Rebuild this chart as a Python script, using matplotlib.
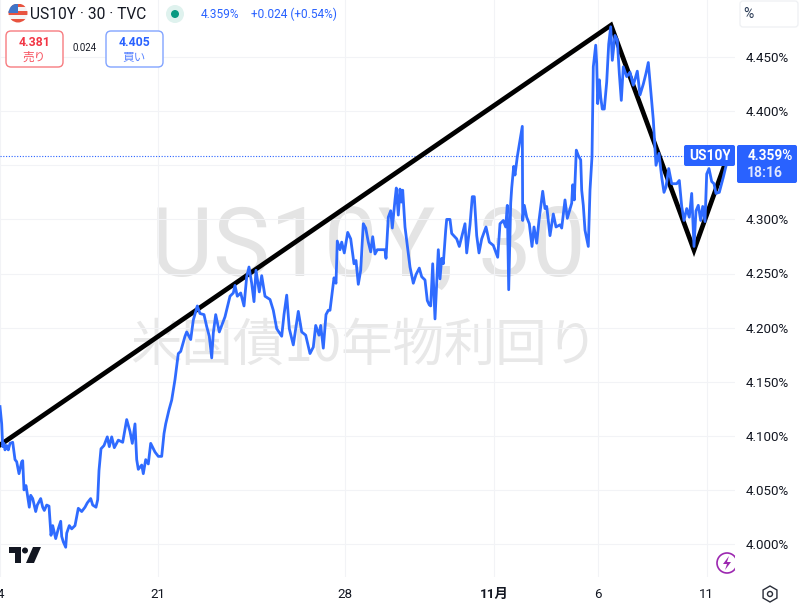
import matplotlib
matplotlib.use("Agg")
import matplotlib.pyplot as plt
from matplotlib.patches import Circle, FancyBboxPatch, Rectangle, Polygon, RegularPolygon

# ---- data -------------------------------------------------------------
time_pos = [0,1.7,2.7,4,5,6.7,8.3,10,12.7,15,16.7,19,21.7,22.7,24,26,29.3,30.7,32.7,35.7,37.3,40.7,42.7,44.3,46.7,49,51,52.7,55.7,58.3,60.7,61.7,63.3,65.7,66.7,69.3,71.7,75,78.3,81.7,85,87.3,90.7,92.7,96,97.7,99,101,104,107.3,109.3,111.7,114.3,118.3,122.7,126.7,130,132.3,135,136.7,138.3,141.7,143.3,145.7,148.3,150.7,155,158.3,161.7,164,165.7,169,171.7,
    175,178.3,180.7,185,186.7,190.7,193.3,197.3,200,204,206.7,209.3,211.7,213.3,215.7,219.3,221.7,225,230,233.3,235,237.3,240.7,244,246.7,249,251.7,254,256,259.3,261.7,265,270,273.3,276.7,281.7,284,286.7,289.3,293.3,298.3,301.7,305.7,310,313.3,315.7,319,320.7,323.3,326,328.3,
    330,334,336,337.3,340,341.7,344.3,347.7,350.7,354,356,358.3,360.7,363.3,365.7,368.3,370.7,372.7,375,377.3,385,386,388.3,390.7,392.3,395,396.3,398.3,400,401.3,402.7,405,407.3,410,413.3,416,419.3,421.7,425,427.3,429.3,430.7,432.7,435,438.3,440,
    441.7,443.3,445.7,446.7,450,451.7,456.7,459.3,465,466.7,470,472.3,474.3,476.7,479,481.7,486,489.3,493.3,497.7,500,503.3,505.7,507.3,508.7,510.7,511.7,513.7,515,517.3,520,522.3,522.7,524.3,526.7,529.3,532,534,536.7,539,542.7,545,546.7,550,553.3,556,560,561.7,565,567.3,571.7,572.7,574.3,576.3,578.3,580.7,581.7,583.3,585,586.7,588.3,590,592,
    593.3,595.7,596.7,597.7,599.3,600.7,602.3,604.3,606.7,608.7,610.7,612.3,615,617.3,619.3,621.3,623.3,626.7,630,633.3,637.3,640,643.3,646,648.3,650.7,653.3,656,659,661.7,664,666,668.7,671.7,676.7,679.3,681.7,684,686.7,689.3,691.7,694,696,698.3,700.7,702.7,705,706.7,709,711.7,714,716,719.3,723.3,726.7,728]
yield_pct = [4.127,4.111,4.090,4.093,4.087,4.091,4.087,4.093,4.094,4.078,4.076,4.065,4.076,4.077,4.050,4.054,4.034,4.045,4.042,4.030,4.036,4.042,4.034,4.031,4.036,4.035,4.008,4.017,4.005,4.014,4.021,4.007,4.002,3.997,4.010,4.017,4.014,4.017,4.033,4.030,4.034,4.038,4.042,4.036,4.034,4.041,4.068,4.088,4.091,4.099,4.090,4.099,4.089,4.096,4.094,4.115,4.104,4.093,4.111,4.078,4.069,4.073,4.065,4.078,4.074,4.093,4.085,4.081,4.081,4.102,4.111,4.124,4.133,
    4.152,4.176,4.178,4.192,4.196,4.189,4.207,4.220,4.213,4.212,4.201,4.192,4.172,4.195,4.212,4.196,4.202,4.210,4.229,4.232,4.239,4.229,4.232,4.220,4.247,4.256,4.241,4.224,4.253,4.233,4.248,4.229,4.226,4.216,4.199,4.192,4.212,4.230,4.199,4.184,4.215,4.196,4.193,4.176,4.182,4.202,4.193,4.202,4.181,4.212,4.216,
    4.216,4.246,4.241,4.280,4.272,4.279,4.269,4.288,4.282,4.259,4.262,4.240,4.253,4.296,4.292,4.279,4.270,4.284,4.268,4.272,4.272,4.264,4.302,4.308,4.292,4.318,4.329,4.304,4.328,4.316,4.327,4.293,4.276,4.256,4.241,4.249,4.255,4.247,4.244,4.225,4.221,4.220,4.259,4.208,4.272,4.245,
    4.264,4.259,4.290,4.300,4.300,4.287,4.282,4.275,4.296,4.269,4.295,4.321,4.321,4.285,4.269,4.282,4.293,4.279,4.276,4.265,4.296,4.299,4.293,4.313,4.235,4.315,4.329,4.349,4.341,4.358,4.373,4.386,4.299,4.313,4.302,4.296,4.275,4.293,4.278,4.299,4.326,4.310,4.312,4.285,4.305,4.293,4.295,4.292,4.318,4.301,4.315,4.332,4.318,4.364,4.359,4.355,4.327,4.313,4.290,4.282,4.275,4.327,4.358,
    4.441,4.461,4.444,4.407,4.429,4.413,4.402,4.402,4.427,4.462,4.478,4.447,4.470,4.466,4.435,4.410,4.441,4.432,4.436,4.424,4.437,4.415,4.425,4.435,4.445,4.419,4.392,4.350,4.361,4.339,4.325,4.330,4.347,4.333,4.333,4.336,4.312,4.299,4.310,4.302,4.324,4.275,4.308,4.313,4.299,4.312,4.298,4.342,4.347,4.335,4.333,4.324,4.325,4.339,4.352,4.359]
trend_pos = [0, 611, 694, 728]
trend_pct = [4.0915, 4.4795, 4.2716, 4.359]
y_ticks = [4.00,4.05,4.10,4.15,4.20,4.25,4.30,4.35,4.40,4.45]
y_shown = [4.00,4.05,4.10,4.15,4.20,4.25,4.30,4.40,4.45]
x_ticks = [0, 158.3, 345, 494.3, 598.3, 706.7]
x_labels = ["4", "21", "28", "11月", "6", "11"]
last_price = 4.359

BLUE = "#2962ff"
LINE = "#2f6bff"
GRID = "#f2f3f6"
INK = "#131722"
FAM = ["Roboto", "Noto Sans CJK JP", "DejaVu Sans"]
CJK = ["Noto Sans CJK JP", "DejaVu Sans"]

W, H = 800, 604
fig = plt.figure(figsize=(W/100, H/100), dpi=100, facecolor="white")

def px_axes(z):
    a = fig.add_axes([0, 0, 1, 1], zorder=z)
    a.set_xlim(0, W); a.set_ylim(H, 0); a.axis("off"); a.patch.set_alpha(0)
    return a

bg = px_axes(0)
bg.text(368, 276, "US10Y, 30", fontsize=69, color="#e4e4e4", ha="center", va="baseline",
        family=["Liberation Sans Narrow", "Roboto"])
bg.text(364, 346, "米国債10年物利回り", fontsize=37, color="#e8e8e8", ha="center", va="center", family=CJK)

# main chart: pixel 0..735 horizontally, 0..577 vertically
ax = fig.add_axes([0, (H-577)/H, 735/W, 577/H], zorder=1)
ax.patch.set_alpha(0)
ax.set_xlim(0, 735)
ax.set_ylim(4 - 33*0.05/54.1, 4 + 544*0.05/54.1)
for s in ax.spines.values():
    s.set_visible(False)
ax.yaxis.tick_right()
ax.set_yticks(y_ticks)
ax.set_yticklabels([f"{v:.3f}%" if v in y_shown else "" for v in y_ticks], family=FAM, fontsize=9.6, color=INK)
ax.set_xticks(x_ticks)
ax.set_xticklabels(x_labels, family=FAM, fontsize=9.6, color=INK)
ax.get_xticklabels()[3].set_fontweight("bold")
ax.tick_params(axis="both", length=0)
ax.tick_params(axis="y", pad=8)
ax.tick_params(axis="x", pad=8)
ax.grid(True, color=GRID, lw=0.8)
ax.set_axisbelow(True)
ax.axhline(last_price, color=BLUE, lw=0.8, ls=(0, (1, 1.5)), zorder=1)
ax.plot(trend_pos, trend_pct, color="black", lw=3.4, solid_joinstyle="miter", zorder=2)
ax.plot(time_pos, yield_pct, color=LINE, lw=2.0, solid_joinstyle="round", zorder=3)

fg = px_axes(2)
# flag
clip = Circle((18, 13), 9.5, transform=fg.transData)
for i, c in enumerate(["#e8533f", "#f4f4f4", "#e8533f", "#f4f4f4", "#e8533f"]):
    r = Rectangle((8, 3.5+i*3.8), 20, 3.8, fc=c, ec="none"); fg.add_patch(r); r.set_clip_path(clip)
r = Rectangle((8, 3.5), 10, 9, fc="#3f74c8", ec="none"); fg.add_patch(r); r.set_clip_path(clip)

fg.text(30, 14.5, "US10Y · 30 · TVC", fontsize=11.2, color=INK, family=FAM, va="center")
fg.add_patch(Circle((175, 14), 9, fc="#dff2ee", ec="none"))
fg.add_patch(Circle((175, 14), 4, fc="#089981", ec="none"))
fg.text(201, 14.5, "4.359%", fontsize=8.6, color=BLUE, family=FAM, va="center")
fg.text(251, 14.5, "+0.024 (+0.54%)", fontsize=8.6, color=BLUE, family=FAM, va="center")

fg.add_patch(FancyBboxPatch((6, 31), 57, 36, boxstyle="round,pad=0,rounding_size=5", fc="white", ec="#f77c80", lw=1))
fg.text(34.5, 42, "4.381", fontsize=8.8, fontweight="bold", color="#f23645", family=FAM, ha="center", va="center")
fg.text(34.5, 57, "売り", fontsize=8.4, color="#f7525f", family=CJK, ha="center", va="center")
fg.text(84.5, 48, "0.024", fontsize=6.9, color=INK, family=FAM, ha="center", va="center")
fg.add_patch(FancyBboxPatch((106, 31), 57, 36, boxstyle="round,pad=0,rounding_size=5", fc="white", ec="#82a4ff", lw=1))
fg.text(134.5, 42, "4.405", fontsize=8.8, fontweight="bold", color=BLUE, family=FAM, ha="center", va="center")
fg.text(134.5, 57, "買い", fontsize=8.4, color="#5b85ff", family=CJK, ha="center", va="center")

# percent button
fg.add_patch(FancyBboxPatch((740, 1), 58, 26, boxstyle="round,pad=0,rounding_size=3", fc="white", ec="#eef0f3", lw=0.9))
fg.text(748, 14, "%", fontsize=10, color="#2a3a55", family=FAM, ha="center", va="center")

# last-price labels
fg.add_patch(FancyBboxPatch((684, 145), 51, 21, boxstyle="round,pad=0,rounding_size=2", fc=BLUE, ec="none"))
t = fg.text(689, 156, "US10Y", fontsize=10, fontweight="bold", color="white", family=FAM, va="center")
t.set_clip_on(True)
t.set_clip_path(Rectangle((684, 145), 46, 21, transform=fg.transData))
for i, a in enumerate([0.5, 0.8, 0.95]):
    fg.add_patch(Rectangle((722 + i*3, 146), 3, 19, fc=BLUE, ec="none", alpha=a))
fg.add_patch(FancyBboxPatch((737, 145), 60, 38, boxstyle="round,pad=0,rounding_size=2", fc=BLUE, ec="none"))
fg.text(793, 156, "4.359%", fontsize=9.8, fontweight="bold", color="white", family=FAM, ha="right", va="center")
fg.text(747, 173, "18:16", fontsize=10, color="#dfe7ff", fontweight="bold", family=FAM, ha="left", va="center")

# TradingView logo
fg.add_patch(Polygon([(9,547),(21,547),(21,563),(15,563),(15,553),(9,553)], fc=INK, ec="none"))
fg.add_patch(Circle((25, 550.5), 3, fc=INK, ec="none"))
fg.add_patch(Polygon([(33,547),(41,547),(34,563),(26,563)], fc=INK, ec="none"))

# lightning badge
fg.add_patch(Circle((727, 563), 10, fc="white", ec="#9c27b0", lw=1.2))
fg.add_patch(Rectangle((735, 556), 3, 14, fc="white", ec="none"))
fg.add_patch(Polygon([(729,556),(723,564),(727,564),(725,570),(731,562),(727,562)], fc="#9c27b0", ec="none"))

# settings hexagon
fg.add_patch(RegularPolygon((770, 594), 6, radius=8, fc="white", ec="#2a2e39", lw=1))
fg.add_patch(Circle((770, 594), 2.5, fc="white", ec="#2a2e39", lw=1))

fig.savefig("out.png", dpi=100, facecolor="white")
